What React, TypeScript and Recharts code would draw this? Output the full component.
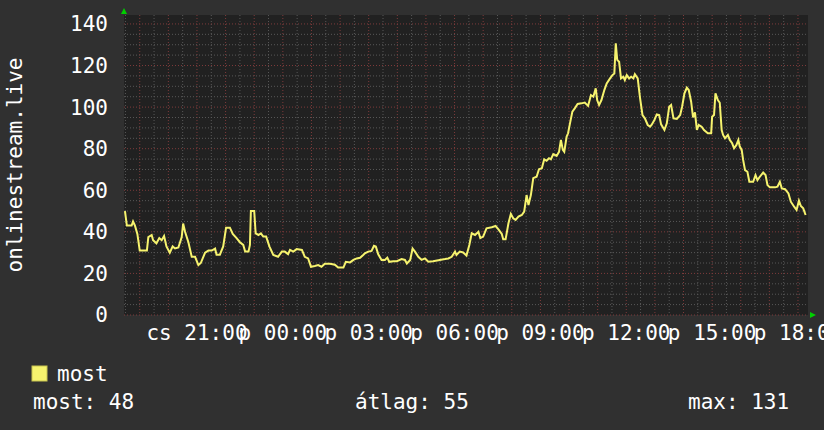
import React from 'react';
import { LineChart, Line, XAxis, YAxis, CartesianGrid } from 'recharts';

// minutes since Thursday 18:00
const minutes = [
  29, 33, 43, 46, 50, 55, 60, 75, 78, 85, 88, 95, 101, 106, 111, 116, 123, 129, 134, 141,
  148, 151, 155, 162, 169, 176, 183, 188, 197, 204, 211, 218, 221, 228, 235, 241, 249, 255, 263, 270,
  277, 281, 288, 291, 293, 300, 303, 309, 314, 319, 325, 332, 340, 350, 358, 364, 371, 375, 382, 389,
  400, 406, 413, 419, 427, 434, 441, 448, 459, 469, 476, 487, 492, 501, 508, 515, 522, 529, 532, 539,
  546, 551, 555, 560, 567, 574, 579, 583, 592, 599, 609, 616, 620, 627, 632, 637, 644, 651, 658, 665,
  675, 689, 700, 707, 714, 721, 724, 731, 738, 745, 751, 756, 763, 770, 774, 780, 787, 798, 806, 812,
  819, 822, 827, 833, 838, 843, 848, 854, 861, 866, 871, 875, 880, 885, 892, 897, 903, 908, 913, 918,
  922, 927, 934, 939, 943, 947, 950, 955, 958, 962, 967, 972, 978, 986, 993, 1000, 1006, 1011, 1016, 1019,
  1023, 1028, 1034, 1039, 1046, 1051, 1055, 1058, 1061, 1065, 1069, 1074, 1077, 1081, 1086, 1090, 1095, 1098, 1104, 1109,
  1114, 1119, 1125, 1130, 1133, 1139, 1144, 1149, 1153, 1160, 1165, 1170, 1174, 1179, 1186, 1193, 1197, 1202, 1207, 1211,
  1216, 1220, 1224, 1228, 1232, 1238, 1243, 1251, 1258, 1260, 1264, 1267, 1272, 1276, 1280, 1283, 1287, 1293, 1297, 1302,
  1306, 1311, 1315, 1318, 1322, 1325, 1329, 1334, 1338, 1346, 1351, 1355, 1360, 1367, 1372, 1376, 1381, 1392, 1397, 1402,
  1406, 1413, 1420, 1425, 1432, 1437, 1442, 1446, 1451, 1456,
];

const most = [
  50, 43, 43, 45, 43, 39, 31, 31, 37.5, 38.5, 36, 34.5, 37, 36, 38, 33, 30, 33, 32, 32.5,
  37.5, 44, 40, 35, 28, 28, 24, 25, 30, 31, 31, 32, 29, 29, 33, 42, 42, 39, 37, 35,
  33.7, 30.5, 30.5, 33.7, 50, 50, 39.3, 38.5, 39.3, 37.7, 37.7, 32.9, 28.9, 28, 30.5, 30.5, 29.3, 31.3, 30.5, 31.7,
  31.3, 28, 27.2, 23.2, 23.6, 24, 23.2, 24.7, 24.7, 24.2, 22.8, 22.8, 25.6, 25.3, 26.5, 27.2, 27.5, 29, 29.7, 30.5,
  30.8, 33.3, 32.9, 29.2, 26.5, 26.5, 27.6, 25.6, 25.9, 25.9, 26.9, 26.5, 24.8, 26.5, 32, 30.5, 28, 26.5, 27.2, 25.6,
  25.9, 26.5, 26.9, 27.2, 28, 30.5, 28.9, 30.5, 30.1, 28.6, 33.7, 39.3, 38.5, 40, 37, 37.7, 41.7, 42.2, 42.8, 41.2,
  39, 36.4, 36.4, 44.1, 48.6, 46.5, 45.7, 47.3, 48.1, 49.7, 57.7, 52.9, 57.7, 65.8, 66.5, 70.1, 70.6, 74.9, 74.2, 75.4,
  74.9, 77.4, 76.5, 78.5, 84.2, 79.4, 78.5, 85.8, 87.4, 92.2, 97.8, 99.4, 101.5, 101.8, 102.2, 100.6, 105.8, 105, 109, 103.4,
  101, 103.4, 108.2, 111.4, 113.8, 115.4, 116.2, 130.7, 122.7, 121.8, 113.8, 114.6, 113, 115.4, 113.8, 114.6, 113.8, 115.8, 113.8, 104.2,
  96.2, 94.6, 91.4, 90.6, 91.4, 93.8, 96.5, 96.2, 91.7, 89, 92.2, 100.2, 101, 94.6, 94.3, 96.2, 100.2, 106.6, 109.3, 108.2,
  102.6, 95, 97.5, 89, 91.4, 90.6, 89, 87.4, 87.4, 95.4, 96.2, 106.6, 103.4, 102.1, 89, 86.6, 85, 86.6, 84.2, 82.6,
  80.2, 81.8, 84.2, 81, 79.4, 74.6, 69.7, 68.9, 64.1, 64.1, 67.3, 64.9, 66.5, 68.5, 67.3, 62.5, 61.4, 61.4, 61.7, 64.1,
  60.9, 60.5, 58.5, 54.5, 52.1, 50.5, 55, 52.4, 51.3, 48.1,
];

const xTicks = [180, 360, 540, 720, 900, 1080, 1260, 1440];
const xTickLabels = ['cs 21:00', 'p 00:00', 'p 03:00', 'p 06:00', 'p 09:00', 'p 12:00', 'p 15:00', 'p 18:00'];
const yTicks = [0, 20, 40, 60, 80, 100, 120, 140];

const statLabels = ['most', 'átlag', 'max'];
const statValues = [48, 55, 131];

const data = minutes.map((m, i) => ({ t: m, most: most[i] }));

const X_DOMAIN = [27, 1461];
const Y_MAX = 144.3;

const minorY: number[] = [];
for (let v = 5; v < Y_MAX; v += 5) if (v % 20 !== 0) minorY.push(v);
const majorY: number[] = [];
for (let v = 0; v < Y_MAX; v += 20) majorY.push(v);
const minorX: number[] = [];
const majorX: number[] = [];
for (let m = 30; m < X_DOMAIN[1]; m += 30) (m % 60 === 0 ? majorX : minorX).push(m);

const FONT = '"DejaVu Sans Mono", monospace';
const LINE_COLOR = '#f6f36e';

const App = () => {
  return (
    <div style={{ position: 'absolute', left: 0, top: 0, width: 824, height: 430, background: '#303030' }}>
      <LineChart
        width={824}
        height={430}
        data={data}
        margin={{ top: 15, right: 16, left: 0, bottom: 85 }}
      >
        <CartesianGrid
          fill="#212121"
          fillOpacity={1}
          stroke="#585858"
          strokeDasharray="1 2"
          horizontalValues={minorY}
          verticalValues={minorX}
        />
        <CartesianGrid
          stroke="#7e3b3b"
          strokeDasharray="1 2"
          horizontalValues={majorY}
          verticalValues={majorX}
        />
        <XAxis
          dataKey="t"
          type="number"
          domain={X_DOMAIN}
          ticks={xTicks}
          tickFormatter={(v: number) => xTickLabels[xTicks.indexOf(v)]}
          axisLine={false}
          tickLine={false}
          tickSize={8}
          tickMargin={2}
          height={30}
          interval={0}
          tick={{ fill: '#ffffff', fontSize: 21, fontFamily: FONT }}
        />
        <YAxis
          type="number"
          domain={[0, Y_MAX]}
          ticks={yTicks}
          axisLine={false}
          tickLine={false}
          tickSize={8}
          tickMargin={8}
          width={124}
          interval={0}
          tick={{ fill: '#ffffff', fontSize: 21, fontFamily: FONT }}
        />
        <Line
          type="linear"
          dataKey="most"
          stroke={LINE_COLOR}
          strokeWidth={2}
          dot={false}
          isAnimationActive={false}
        />
      </LineChart>
      <svg
        width={824}
        height={430}
        style={{ position: 'absolute', left: 0, top: 0, pointerEvents: 'none' }}
        fontFamily={FONT}
      >
        <polygon points="121,14 127,14 124,8" fill="#00d000" />
        <polygon points="810,312 810,318 816,315" fill="#00d000" />
        <text
          x={0}
          y={0}
          transform="translate(22,165) rotate(-90)"
          textAnchor="middle"
          fill="#ffffff"
          fontSize={21}
        >
          onlinestream.live
        </text>
        <rect x={32} y={366} width={15} height={15} fill={LINE_COLOR} stroke="#c8c450" strokeWidth={1} />
        <text x={57} y={381} fill="#ffffff" fontSize={21}>
          {statLabels[0]}
        </text>
        <text x={33} y={409} fill="#ffffff" fontSize={21}>
          {`${statLabels[0]}: ${statValues[0]}`}
        </text>
        <text x={355} y={409} fill="#ffffff" fontSize={21}>
          {`${statLabels[1]}: ${statValues[1]}`}
        </text>
        <text x={688} y={409} fill="#ffffff" fontSize={21}>
          {`${statLabels[2]}: ${statValues[2]}`}
        </text>
      </svg>
    </div>
  );
};

export default App;
